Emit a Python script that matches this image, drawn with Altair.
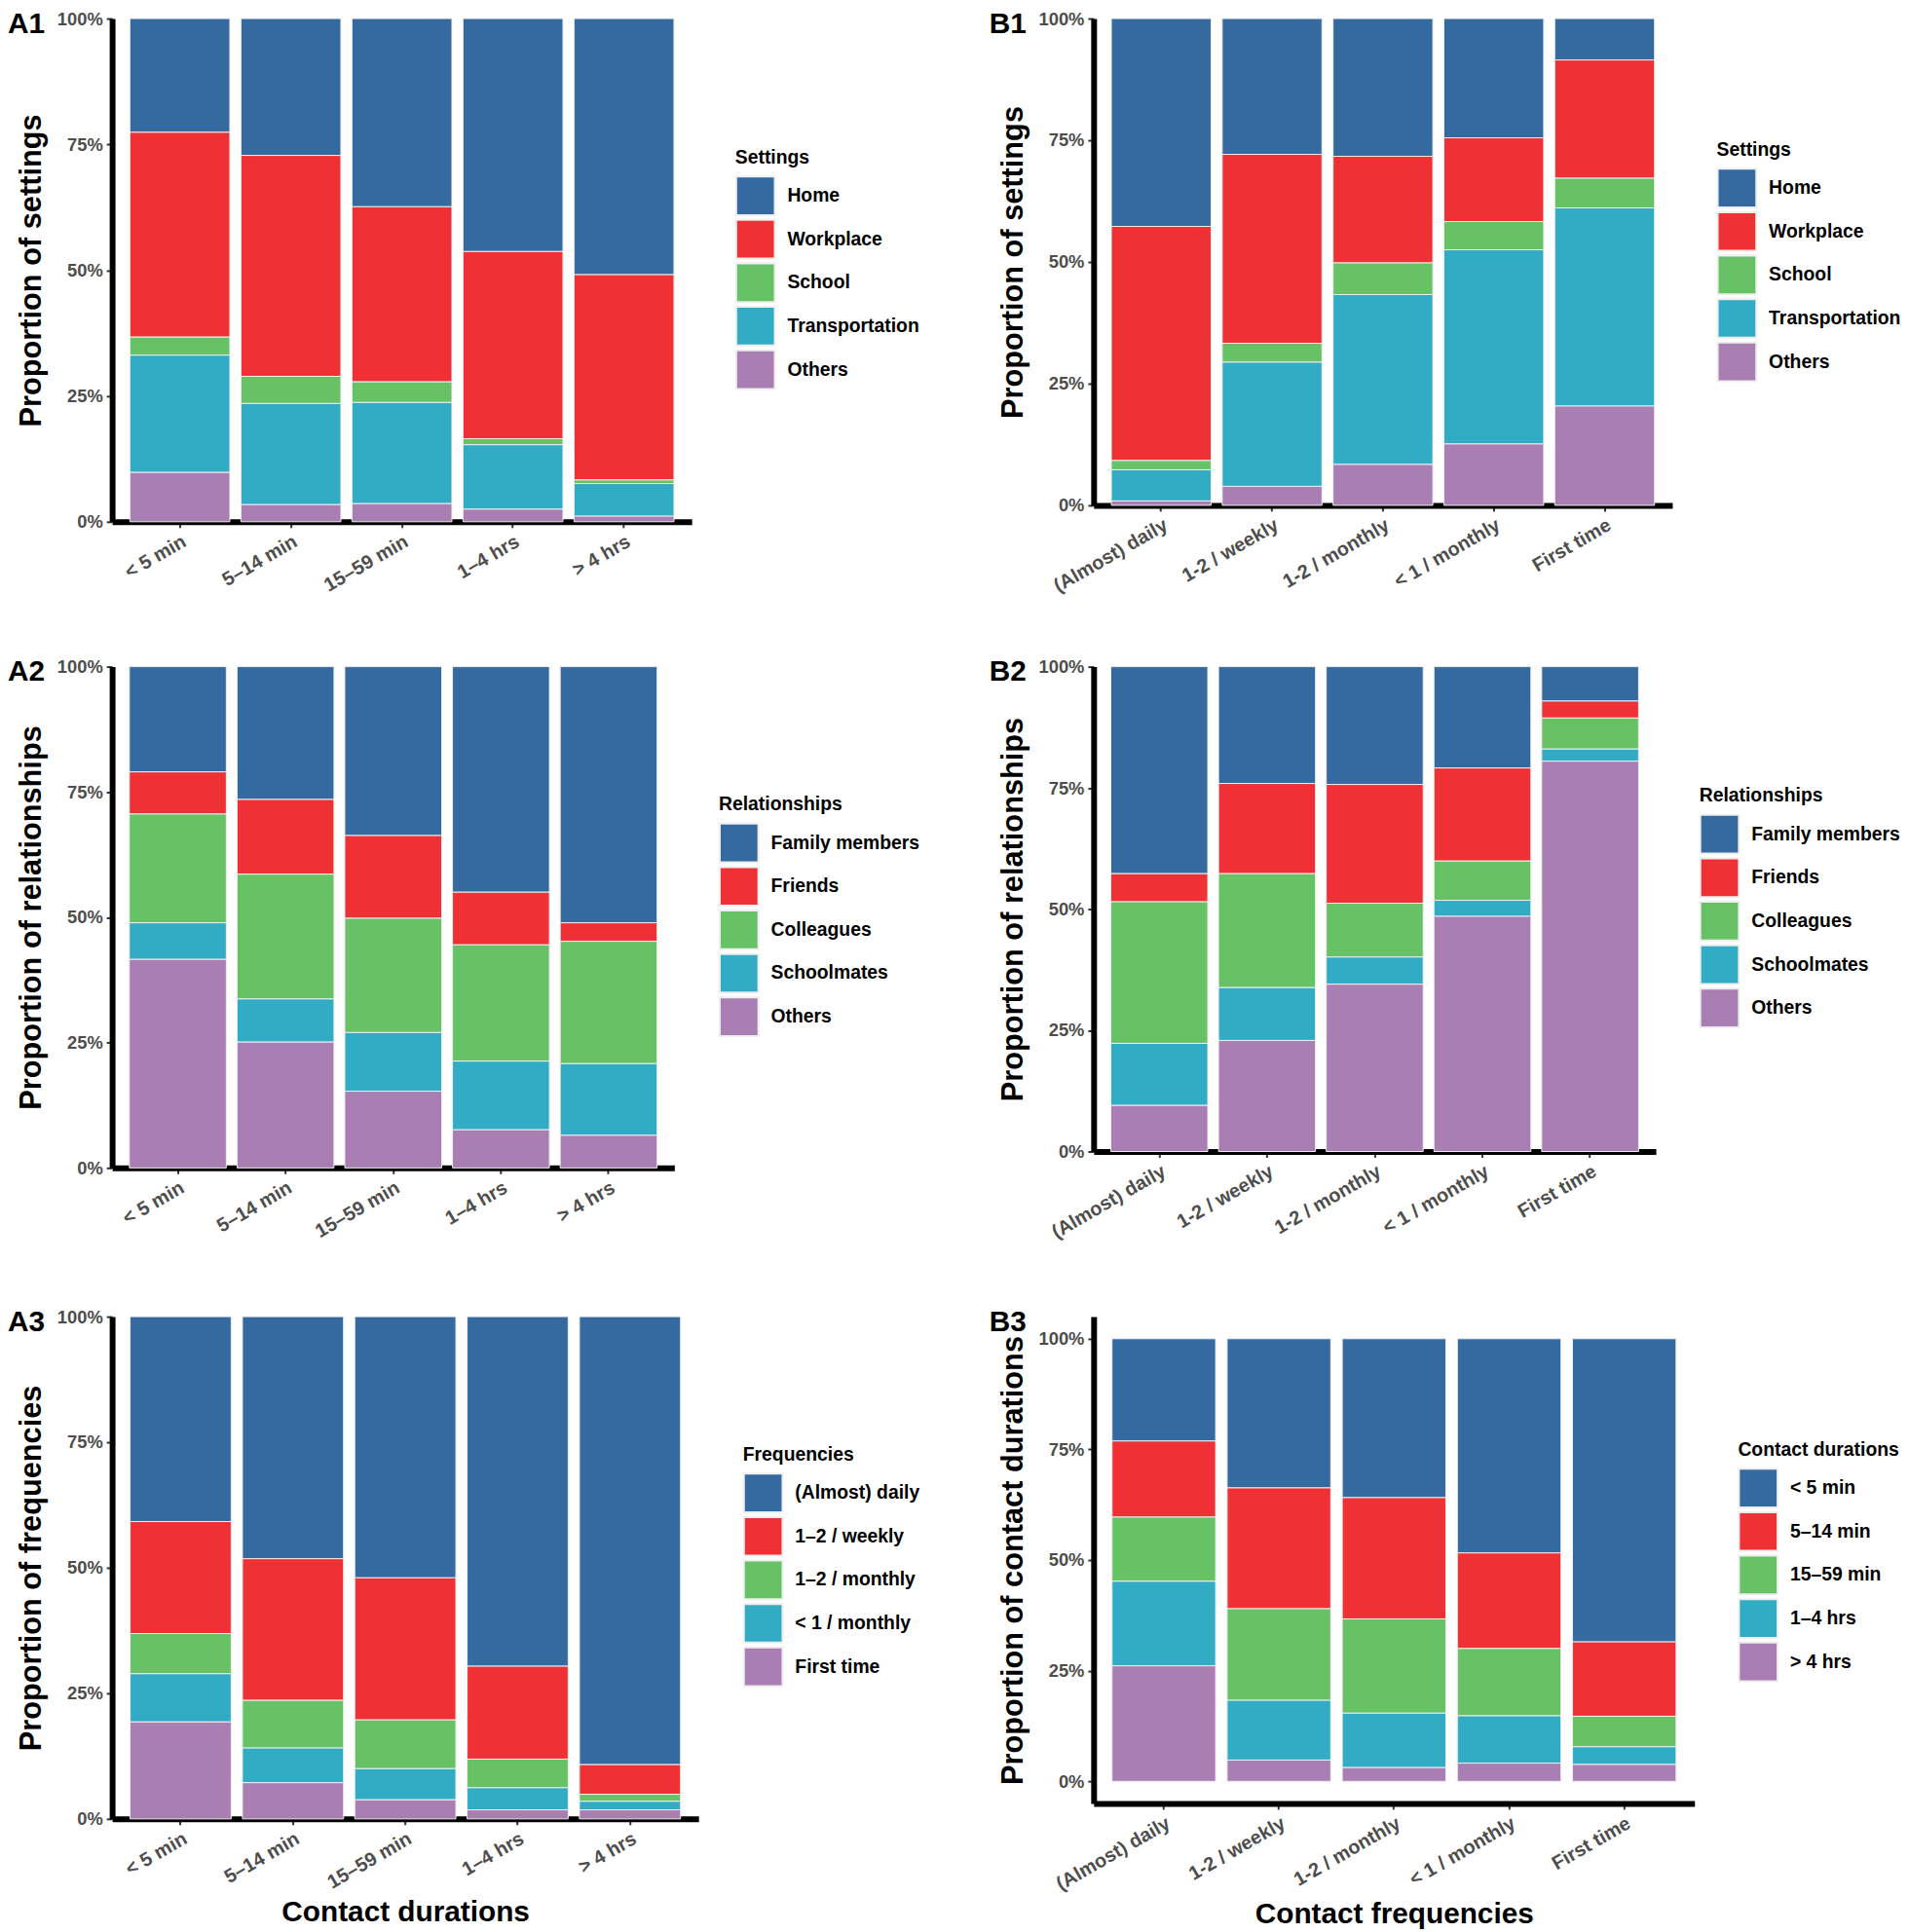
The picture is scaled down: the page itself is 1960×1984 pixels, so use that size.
import altair as alt
import pandas as pd

FONT = "Liberation Sans"
COLORS = ["#356AA0", "#EF3135", "#67C265", "#32ACC5", "#A87EB3"]

durations = ["< 5 min", "5–14 min", "15–59 min", "1–4 hrs", "> 4 hrs"]
frequencies = ["(Almost) daily", "1-2 / weekly", "1-2 / monthly", "< 1 / monthly", "First time"]
settings = ["Home", "Workplace", "School", "Transportation", "Others"]
relationships = ["Family members", "Friends", "Colleagues", "Schoolmates", "Others"]
freq_legend = ["(Almost) daily", "1–2 / weekly", "1–2 / monthly", "< 1 / monthly", "First time"]
dur_legend = ["< 5 min", "5–14 min", "15–59 min", "1–4 hrs", "> 4 hrs"]

# A1: settings by contact duration (%)
a1_home = [22.6, 27.2, 37.4, 46.3, 50.9]
a1_work = [40.7, 43.9, 34.8, 37.2, 40.8]
a1_school = [3.6, 5.4, 4.1, 1.2, 0.7]
a1_trans = [23.3, 20.1, 20.1, 12.8, 6.5]
a1_others = [9.8, 3.4, 3.6, 2.5, 1.1]

# B1: settings by contact frequency (%)
b1_home = [42.7, 27.9, 28.3, 24.5, 8.5]
b1_work = [48.1, 38.8, 21.9, 17.2, 24.3]
b1_school = [1.9, 3.9, 6.5, 5.8, 6.1]
b1_trans = [6.4, 25.5, 34.9, 39.9, 40.7]
b1_others = [0.9, 3.9, 8.4, 12.6, 20.4]

# A2: relationships by contact duration (%)
a2_family = [21.0, 26.5, 33.7, 45.0, 51.1]
a2_friends = [8.4, 14.9, 16.5, 10.5, 3.7]
a2_colleagues = [21.7, 24.9, 22.8, 23.2, 24.4]
a2_schoolmates = [7.3, 8.6, 11.7, 13.7, 14.3]
a2_others = [41.6, 25.1, 15.3, 7.6, 6.5]

# B2: relationships by contact frequency (%)
b2_family = [42.7, 24.1, 24.3, 20.9, 7.1]
b2_friends = [5.8, 18.6, 24.5, 19.2, 3.5]
b2_colleagues = [29.2, 23.5, 11.1, 8.1, 6.4]
b2_schoolmates = [12.8, 10.9, 5.6, 3.3, 2.5]
b2_others = [9.5, 22.9, 34.5, 48.5, 80.5]

# A3: frequencies by contact duration (%)
a3_daily = [40.8, 48.2, 52.0, 69.6, 89.2]
a3_weekly = [22.3, 28.2, 28.3, 18.5, 5.9]
a3_monthly = [8.0, 9.5, 9.7, 5.7, 1.4]
a3_lt_monthly = [9.6, 6.9, 6.2, 4.4, 1.7]
a3_first = [19.3, 7.2, 3.8, 1.8, 1.8]

# B3: durations by contact frequency (%)
b3_lt5 = [23.1, 33.7, 35.9, 48.4, 68.5]
b3_5_14 = [17.2, 27.3, 27.4, 21.6, 16.8]
b3_15_59 = [14.5, 20.7, 21.3, 15.2, 6.9]
b3_1_4 = [19.1, 13.5, 12.3, 10.7, 4.0]
b3_gt4 = [26.1, 4.8, 3.1, 4.1, 3.8]


def panel(label, xcats, names, series, ytitle, ltitle, w, h, lx, ly,
          xtitle=None, ydomain=(0, 1)):
    rows = []
    for i, (name, vals) in enumerate(zip(names, series)):
        for xc, v in zip(xcats, vals):
            rows.append({"x": xc, "cat": name, "value": v, "ord": i})
    df = pd.DataFrame(rows)

    xaxis = alt.Axis(
        title=xtitle, labelAngle=-30, labelAlign="right", labelBaseline="top",
        labelFontSize=20, labelFont=FONT, labelFontWeight="bold",
        labelColor="#4D4D4D", labelPadding=4,
        titleFont=FONT, titleFontSize=30, titleFontWeight="bold",
        titleColor="black", titlePadding=6,
        domainColor="black", domainWidth=6, tickColor="#333333",
        tickWidth=2, tickSize=6, grid=False,
    )
    yaxis = alt.Axis(
        title=ytitle, values=[0, 0.25, 0.5, 0.75, 1], format=".0%",
        labelFontSize=18.5, labelFont=FONT, labelFontWeight="bold",
        labelColor="#4D4D4D", labelPadding=4,
        titleFont=FONT, titleFontSize=31, titleFontWeight="bold",
        titleColor="black", titlePadding=10,
        domainColor="black", domainWidth=6, tickColor="#333333",
        tickWidth=2, tickSize=6, grid=False,
    )
    legend = alt.Legend(
        title=ltitle, orient="none", legendX=lx, legendY=ly,
        symbolType="square", symbolSize=1600, symbolStrokeColor="#eeeeee",
        symbolStrokeWidth=2, symbolOpacity=1, rowPadding=-4, labelOffset=12,
        titlePadding=8, titleFont=FONT, titleFontSize=19.5,
        titleFontWeight="bold", titleColor="black", labelFont=FONT,
        labelFontSize=19.5, labelFontWeight="bold", labelColor="black",
        padding=0, labelLimit=400,
    )
    bars = alt.Chart(df).mark_bar(stroke="#eeeeee", strokeWidth=1).encode(
        x=alt.X("x:N", sort=xcats,
                scale=alt.Scale(paddingInner=0.1, paddingOuter=0.16),
                axis=xaxis),
        y=alt.Y("value:Q", stack="normalize",
                scale=alt.Scale(domain=list(ydomain), nice=False, zero=False),
                axis=yaxis),
        color=alt.Color("cat:N", scale=alt.Scale(domain=names, range=COLORS),
                        legend=legend),
        order=alt.Order("ord:Q", sort="descending"),
    )
    lab = alt.Chart(pd.DataFrame({"t": [label]})).mark_text(
        align="left", baseline="top", font=FONT, fontSize=30,
        fontWeight="bold", color="black",
    ).encode(x=alt.value(-108), y=alt.value(-9), text="t:N")
    return alt.layer(bars, lab).properties(width=w, height=h)


A1 = panel("A1", durations, settings,
           [a1_home, a1_work, a1_school, a1_trans, a1_others],
           "Proportion of settings", "Settings", 600, 521, 645, 135)
B1 = panel("B1", frequencies, settings,
           [b1_home, b1_work, b1_school, b1_trans, b1_others],
           "Proportion of settings", "Settings", 599, 504, 645, 127)
A2 = panel("A2", durations, relationships,
           [a2_family, a2_friends, a2_colleagues, a2_schoolmates, a2_others],
           "Proportion of relationships", "Relationships", 582, 519, 628, 134)
B2 = panel("B2", frequencies, relationships,
           [b2_family, b2_friends, b2_colleagues, b2_schoolmates, b2_others],
           "Proportion of relationships", "Relationships", 582, 502, 627, 125)
A3 = panel("A3", durations, freq_legend,
           [a3_daily, a3_weekly, a3_monthly, a3_lt_monthly, a3_first],
           "Proportion of frequencies", "Frequencies", 607, 520, 653, 134,
           xtitle="Contact durations")
B3 = panel("B3", frequencies, dur_legend,
           [b3_lt5, b3_5_14, b3_15_59, b3_1_4, b3_gt4],
           "Proportion of contact durations", "Contact durations", 622, 504,
           667, 129, xtitle="Contact frequencies", ydomain=(-0.05, 1.05))


def row(a, b, sp):
    return (alt.hconcat(a, b, spacing=sp)
            .resolve_scale(color="independent")
            .resolve_legend(color="independent"))


top_rows = (
    alt.vconcat(row(A1, B1, 72), row(A2, B2, 72), spacing=64)
    .resolve_scale(color="independent")
    .resolve_legend(color="independent")
)

chart = (
    alt.vconcat(top_rows, row(A3, B3, 72), spacing=68)
    .resolve_scale(color="independent")
    .resolve_legend(color="independent")
    .properties(padding={"left": 0, "top": -6, "right": 0, "bottom": 0},
                background="white")
    .configure_view(strokeWidth=0)
)

chart.save("out.html", embed_options={"renderer": "svg", "actions": False})
